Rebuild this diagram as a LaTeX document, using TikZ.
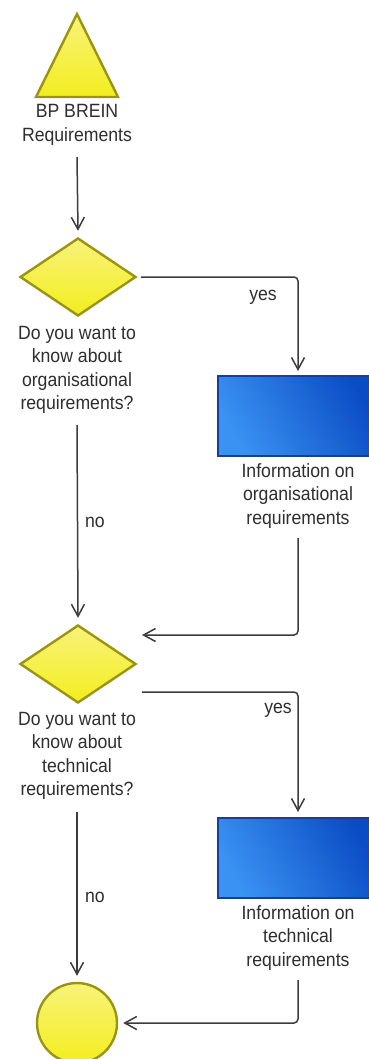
\documentclass[tikz,border=0pt]{standalone}
\usepackage{fontspec}
\setmainfont{Liberation Sans}
\newfontfamily\lblfont[FakeStretch=0.92]{Liberation Sans}
\usetikzlibrary{shapes.geometric,arrows.meta,calc}
\definecolor{ylw}{HTML}{F3EE1E}
\definecolor{ylwlight}{HTML}{F8F27A}
\definecolor{ylwborder}{HTML}{9A9410}
\definecolor{bluelight}{HTML}{3A92F2}
\definecolor{bluedark}{HTML}{0A4CC4}
\definecolor{blueborder}{HTML}{1C3E92}
\definecolor{linecol}{HTML}{3C3C3C}
\definecolor{txtcol}{HTML}{2E2E2E}
\tikzset{
  x=1pt, y=-1pt,
  lbl/.style={font=\lblfont\fontsize{19.2}{23.3}\selectfont, text=txtcol, align=center, inner sep=0pt},
  smalllbl/.style={font=\lblfont\fontsize{19.2}{23.3}\selectfont, text=txtcol, inner sep=0pt},
  yshape/.style={draw=ylwborder, line width=2.4pt, top color=ylwlight, bottom color=ylw, inner sep=0pt},
  decision/.style={yshape, diamond, minimum width=116pt, minimum height=78pt},
  endevent/.style={yshape, circle, minimum size=80pt},
  infobox/.style={draw=blueborder, line width=2pt, left color=bluelight, right color=bluedark, shading angle=120, minimum width=160pt, minimum height=80pt, inner sep=0pt},
  arr/.style={draw=linecol, line width=1.5pt, rounded corners=4pt, -{Straight Barb[length=12pt,width=13pt,line width=1.5pt]}},
}
\begin{document}
\begin{tikzpicture}
\useasboundingbox (0,0) rectangle (368,1059);
% start triangle
\filldraw[draw=ylwborder, line width=2.4pt, top color=ylwlight, bottom color=ylw, line join=miter]
  (77,14) -- (118,97) -- (36,97) -- cycle;
\node[lbl] (startlbl) at (77,125) {BP BREIN\\Requirements};

\node[decision] (d1) at (78,277) {};
\node[lbl] (d1lbl) at (77,370) {Do you want to\\know about\\organisational\\requirements?};

\node[infobox] (r1) at (298,416) {};
\node[lbl] (r1lbl) at (298,496) {Information on\\organisational\\requirements};

\node[decision] (d2) at (78,664) {};
\node[lbl] (d2lbl) at (77,756) {Do you want to\\know about\\technical\\requirements?};

\node[infobox] (r2) at (298,858) {};
\node[lbl] (r2lbl) at (298,938) {Information on\\technical\\requirements};

\node[endevent] (end) at (77,1023) {};

% free connector ends
\coordinate (in2) at (142,635);
\coordinate (out2) at (142,692);

% connectors
\draw[arr] (77,157) -- ([yshift=6pt]d1.north);
\draw[arr] ([xshift=4pt]d1.east) -| ([yshift=4pt]r1.north);
\draw[arr] (298,538) |- (in2);
\draw[arr] (77,425) -- ([yshift=6pt]d2.north);
\draw[arr] (out2) -| ([yshift=5pt]r2.north);
\draw[arr] (77,812) -- ([yshift=6pt]end.north);
\draw[arr] (298,980) |- ([xshift=5pt]end.east);

% branch labels
\node[smalllbl] (yes1) at (263,297) {yes};
\node[smalllbl] (no1) at (95,522) {no};
\node[smalllbl] (yes2) at (278,710) {yes};
\node[smalllbl] (no2) at (95,897) {no};
\end{tikzpicture}
\end{document}
